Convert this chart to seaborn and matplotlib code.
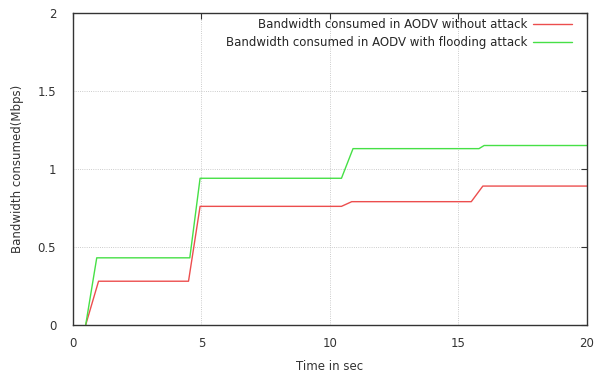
import pandas as pd
import matplotlib.pyplot as plt
import seaborn as sns

time_red = [0.5, 1.0, 4.5, 4.95, 10.45, 10.85, 15.5, 15.95, 20.0]
bw_red = [0.0, 0.28, 0.28, 0.76, 0.76, 0.79, 0.79, 0.89, 0.89]
time_green = [0.5, 0.93, 4.55, 4.95, 10.45, 10.9, 15.8, 16.0, 20.0]
bw_green = [0.0, 0.43, 0.43, 0.94, 0.94, 1.13, 1.13, 1.15, 1.15]

label_red = 'Bandwidth consumed in AODV without attack'
label_green = 'Bandwidth consumed in AODV with flooding attack'

df = pd.concat([
    pd.DataFrame({'time': time_red, 'bw': bw_red, 'series': label_red}),
    pd.DataFrame({'time': time_green, 'bw': bw_green, 'series': label_green}),
])

sns.set_style('white')
plt.rcParams['font.family'] = ['DejaVu Sans']

fig = plt.figure(figsize=(6.02, 3.8), dpi=100)
ax = fig.add_axes([0.121, 0.145, 0.854, 0.821])
sns.lineplot(data=df, x='time', y='bw', hue='series', sort=False,
             palette={label_red: '#ec4e4e', label_green: '#46e046'},
             linewidth=1.0, ax=ax)

ax.set_xlim(0, 20)
ax.set_ylim(0, 2)
ax.set_xticks([0, 5, 10, 15, 20])
ax.set_yticks([0, 0.5, 1, 1.5, 2])
ax.set_yticklabels(['0', '0.5', '1', '1.5', '2'])
ax.grid(True, color='#bbbbbb', linestyle=':', linewidth=0.6)
ax.tick_params(direction='in', length=4, labelsize=8.5, top=True, right=True,
               labeltop=False, labelright=False, colors='#333333')
ax.tick_params(axis='x', pad=9)
ax.tick_params(axis='y', pad=12)
for s in ax.spines.values():
    s.set_color('#333333')
    s.set_linewidth(1.0)
ax.set_xlabel('Time in sec', fontsize=8.5, color='#333333')
ax.set_ylabel('Bandwidth consumed(Mbps)', fontsize=8.5, color='#333333')
ax.xaxis.set_label_coords(0.5, -0.112)
ax.yaxis.set_label_coords(-0.095, 0.5)

leg = ax.legend(loc='upper right', bbox_to_anchor=(0.98, 1.0), frameon=False,
                markerfirst=False, fontsize=8.5, handlelength=3.3,
                handletextpad=0.5, borderaxespad=0, labelspacing=0.45)
for t in leg.get_texts():
    t.set_ha('right')

fig.savefig('out.png', dpi=100)
